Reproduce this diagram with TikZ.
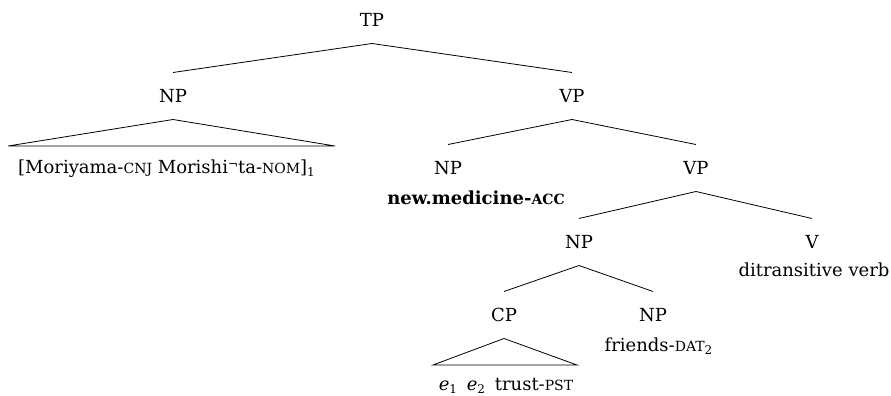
\documentclass[tikz,border=0pt]{standalone}
\usepackage{fontspec}
\setmainfont{DejaVu Serif}
\newcommand{\gl}[1]{{\fontsize{7}{8}\selectfont\MakeUppercase{#1}}}
\newcommand{\dstep}{\raisebox{.55ex}{\fontsize{6}{6}\selectfont¬}}
\tikzset{
  cat/.style={inner sep=0pt, outer ysep=8.5pt, text height=6.5pt, text depth=0pt},
  word/.style={inner sep=0pt, text height=6.5pt, text depth=0pt},
}
\begin{document}
\begin{tikzpicture}[x=.5pt,y=-.5pt,font=\fontsize{9}{11}\selectfont]
\useasboundingbox (0,0) rectangle (891,396);
% categories
\node[cat] (tp) at (372,20) {TP};
\node[cat] (np1) at (173,96) {NP};
\node[cat] (vp1) at (572,96) {VP};
\node[cat] (np2) at (448,168) {NP};
\node[cat] (vp2) at (696,168) {VP};
\node[cat] (np3) at (579,242) {NP};
\node[cat] (v) at (812,242) {V};
\node[cat] (cp) at (504,315) {CP};
\node[cat] (np4) at (653,315) {NP};
% words
\node[word] (w1) at (167,167) {[Moriyama-\gl{cnj} Morishi\dstep ta-\gl{nom}]\textsubscript{1}};
\node[word] (w2) at (476,198) {\textbf{new.medicine-\gl{acc}}};
\node[word] (wv) at (814,270) {ditransitive verb};
\node[word] (w4) at (659,345) {friends-\gl{dat}\textsubscript{2}};
\node[word] (wc) at (506,384) {\textit{e}\textsubscript{1}\, \textit{e}\textsubscript{2}\, trust-\gl{pst}};
% branches
\draw (np1.north) -- (tp.south) -- (vp1.north);
\draw (np2.north) -- (vp1.south) -- (vp2.north);
\draw (np3.north) -- (vp2.south) -- (v.north);
\draw (cp.north) -- (np3.south) -- (np4.north);
% roofs
\coordinate (r1l) at (8,146);
\coordinate (r1r) at (335,146);
\coordinate (r2l) at (433,365);
\coordinate (r2r) at (577,365);
\draw (np1.south) -- (r1l) -- (r1r) -- cycle;
\draw (cp.south) -- (r2l) -- (r2r) -- cycle;
\end{tikzpicture}
\end{document}
